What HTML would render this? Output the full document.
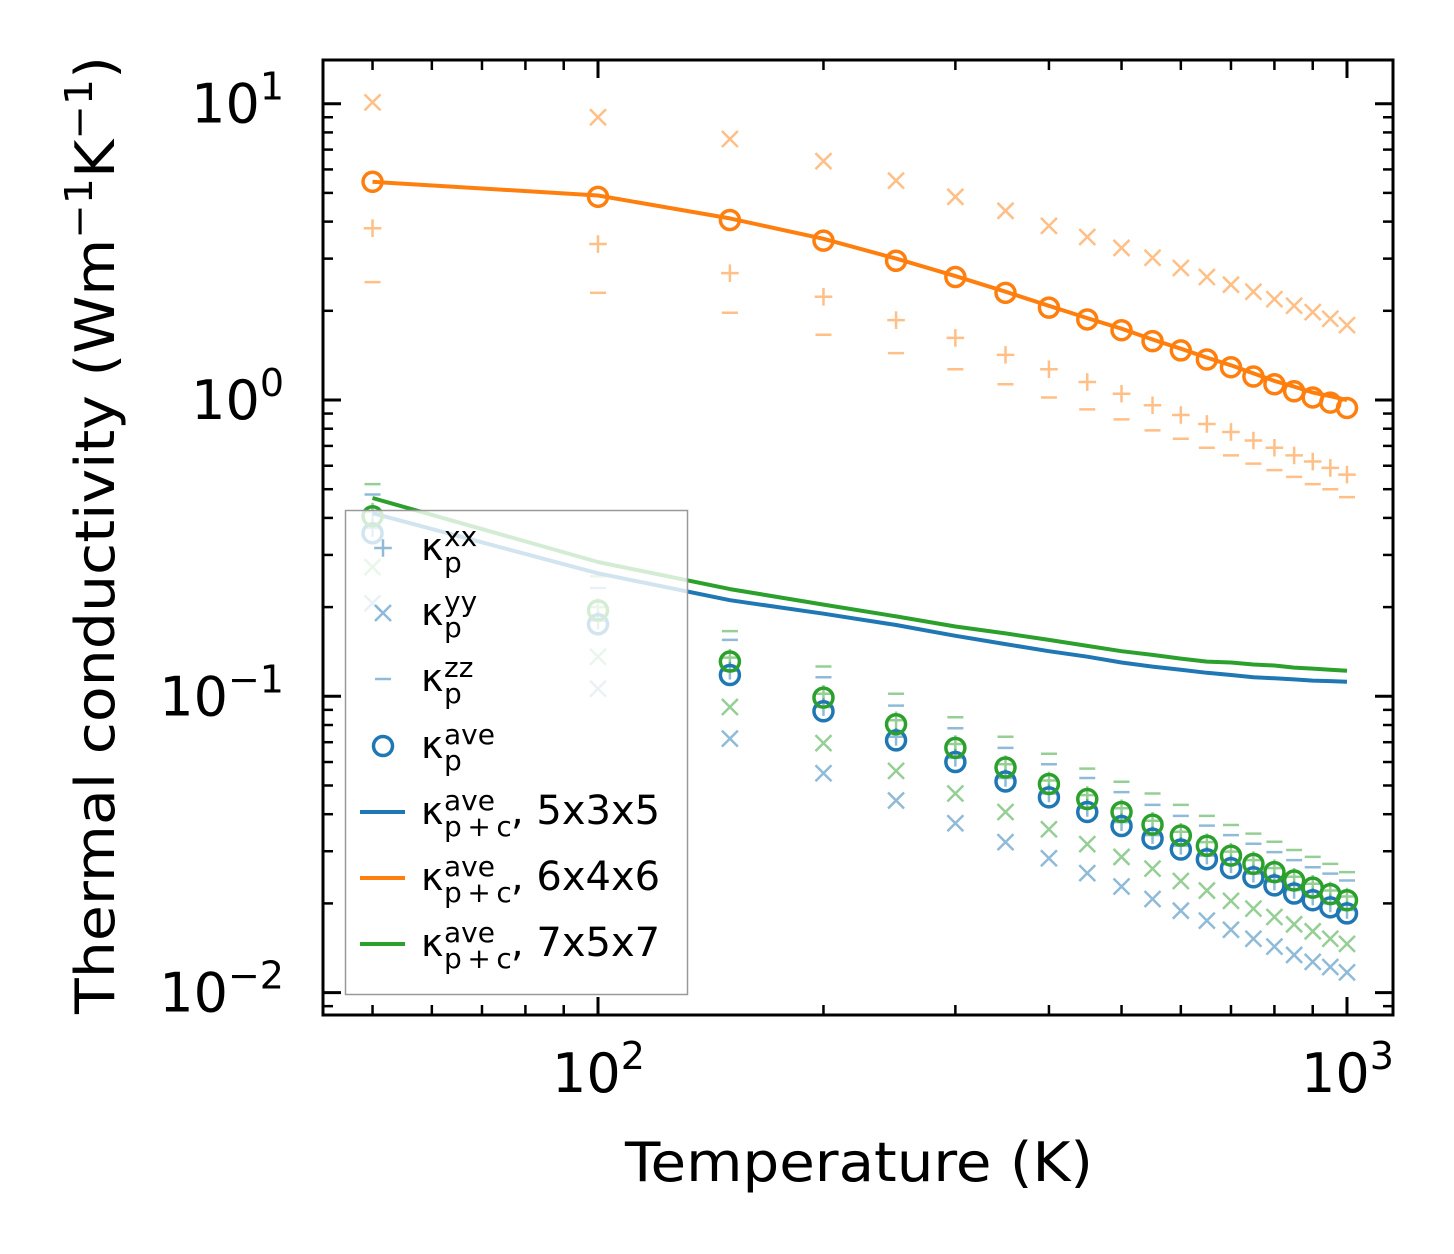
<!DOCTYPE html>
<html><head><meta charset="utf-8"><style>
html,body{margin:0;padding:0;background:#fff;}
svg{display:block;font-family:"DejaVu Sans","Liberation Sans",sans-serif;}
</style></head><body>
<svg id="chart" width="1454" height="1254" viewBox="0 0 1454 1254" xmlns="http://www.w3.org/2000/svg">
<rect x="0" y="0" width="1454" height="1254" fill="#fff"/>
<g id="data"></g>
<g id="legend"></g>
<g id="axes"></g>
</svg>
<script>
const temps = [50,100,150,200,250,300,350,400,450,500,550,600,650,700,750,800,850,900,950,1000];
// 6x4x6 (orange)
const orXX = [3.8,3.36,2.68,2.23,1.86,1.62,1.42,1.27,1.15,1.05,0.96,0.89,0.83,0.78,0.73,0.69,0.65,0.62,0.59,0.56];
const orYY = [10.1,9.0,7.6,6.4,5.5,4.85,4.35,3.87,3.55,3.26,3.02,2.79,2.6,2.45,2.32,2.19,2.08,1.98,1.88,1.79];
const orZZ = [2.5,2.3,1.97,1.66,1.44,1.27,1.13,1.02,0.93,0.86,0.79,0.74,0.69,0.65,0.61,0.58,0.55,0.52,0.5,0.47];
const orAve = [5.45,4.85,4.05,3.45,2.95,2.6,2.3,2.05,1.87,1.72,1.58,1.47,1.37,1.29,1.2,1.13,1.07,1.02,0.98,0.94];
const orLine = [5.45,4.9,4.1,3.5,3.0,2.62,2.32,2.08,1.89,1.74,1.6,1.49,1.39,1.31,1.23,1.16,1.11,1.06,1.03,1.0];
// 5x3x5 (blue)
const blXX = [0.37,0.18,0.122,0.092,0.073,0.062,0.053,0.047,0.042,0.0376,0.034,0.0313,0.029,0.0271,0.0252,0.0237,0.0222,0.0211,0.02,0.019];
const blYY = [0.206,0.106,0.072,0.055,0.0445,0.0373,0.0322,0.0284,0.0253,0.0228,0.0207,0.0189,0.0175,0.0163,0.0152,0.0143,0.0134,0.0127,0.0122,0.0117];
const blZZ = [0.48,0.232,0.155,0.116,0.093,0.078,0.067,0.059,0.053,0.0475,0.043,0.0395,0.0366,0.034,0.0318,0.0298,0.028,0.0265,0.0252,0.0239];
const blAve = [0.355,0.175,0.118,0.089,0.071,0.06,0.0516,0.0456,0.0407,0.0365,0.0331,0.0304,0.0282,0.0263,0.0245,0.023,0.0216,0.0205,0.0194,0.0185];
const blLine = [0.415,0.26,0.211,0.19,0.174,0.16,0.15,0.142,0.136,0.13,0.126,0.123,0.12,0.118,0.116,0.115,0.114,0.113,0.1125,0.112];
// 7x5x7 (green)
const grXX = [0.42,0.2,0.135,0.102,0.083,0.069,0.059,0.052,0.0464,0.0419,0.038,0.0349,0.0322,0.0299,0.028,0.0263,0.0246,0.0233,0.0221,0.0211];
const grYY = [0.273,0.136,0.092,0.0695,0.056,0.047,0.0407,0.0356,0.0317,0.0287,0.0262,0.0238,0.0221,0.0204,0.0192,0.018,0.017,0.0161,0.0152,0.0146];
const grZZ = [0.52,0.254,0.166,0.126,0.102,0.085,0.073,0.064,0.057,0.0515,0.047,0.043,0.0395,0.0368,0.0344,0.0323,0.0303,0.0287,0.0272,0.0255];
const grAve = [0.405,0.195,0.131,0.099,0.0805,0.067,0.0575,0.0506,0.045,0.0407,0.0369,0.0339,0.0313,0.029,0.0272,0.0255,0.0239,0.0226,0.0215,0.0205];
const grLine = [0.467,0.284,0.23,0.204,0.186,0.172,0.163,0.155,0.148,0.142,0.138,0.134,0.131,0.13,0.128,0.127,0.125,0.124,0.123,0.122];
const xTickLabels = ["2","3"];
const yTickLabels = ["1","0","\u22121","\u22122"];

const NS="http://www.w3.org/2000/svg";
const L=323,R=1393,T=60,B=1015;
const xs = v => 598 + 749*(Math.log10(v)-2);
const ys = v => 400 - 296.3*Math.log10(v);
function el(tag, attrs, parent){const e=document.createElementNS(NS,tag);for(const k in attrs)e.setAttribute(k,attrs[k]);parent.appendChild(e);return e;}
const gD=document.getElementById('data'), gL=document.getElementById('legend'), gA=document.getElementById('axes');
const C={blue:'#1f77b4',orange:'#ff7f0e',green:'#2ca02c'};

function marker(type,cx,cy,color,op,parent){
  const s=8;let m;
  if(type==='x'){m=el('path',{d:`M${cx-s} ${cy-s}L${cx+s} ${cy+s}M${cx-s} ${cy+s}L${cx+s} ${cy-s}`,stroke:color,'stroke-width':2.5,fill:'none',opacity:op},parent);}
  else if(type==='+'){m=el('path',{d:`M${cx-s*1.1} ${cy}L${cx+s*1.1} ${cy}M${cx} ${cy-s*1.1}L${cx} ${cy+s*1.1}`,stroke:color,'stroke-width':2.5,fill:'none',opacity:op},parent);}
  else if(type==='-'){m=el('path',{d:`M${cx-s} ${cy}L${cx+s} ${cy}`,stroke:color,'stroke-width':2.5,fill:'none',opacity:op},parent);}
  else {m=el('circle',{cx:cx,cy:cy,r:9.5,stroke:color,'stroke-width':3.5,fill:'none',opacity:op},parent);}
  return m;
}
function series(vals,type,color,op,name){
  const g=el('g',{},gD);
  
  
  vals.forEach((v,i)=>{const m=marker(type,xs(temps[i]),ys(v),color,op,g);
    
    });
}
function line(vals,color,name){
  const d=vals.map((v,i)=>(i?'L':'M')+xs(temps[i]).toFixed(1)+' '+ys(v).toFixed(1)).join('');
  const p=el('path',{d:d,stroke:color,'stroke-width':4,fill:'none','stroke-linejoin':'round'},gD);
  
  
}
[[blXX,blYY,blZZ,C.blue,'blue-5x3x5'],[grXX,grYY,grZZ,C.green,'green-7x5x7'],[orXX,orYY,orZZ,C.orange,'orange-6x4x6']].forEach(([a,b,c,col,n])=>{
  series(a,'+',col,0.5,n+'-kxx');series(b,'x',col,0.5,n+'-kyy');series(c,'-',col,0.5,n+'-kzz');
});
line(blLine,C.blue,'line-5x3x5');
line(orLine,C.orange,'line-6x4x6');
line(grLine,C.green,'line-7x5x7');
series(blAve,'o',C.blue,1,'blue-kave');
series(grAve,'o',C.green,1,'green-kave');
series(orAve,'o',C.orange,1,'orange-kave');

// legend
const lb=el('rect',{x:345.5,y:510.5,width:342,height:484,fill:'#fff','fill-opacity':0.8,stroke:'#999','stroke-width':1.5},gL);


const entries=[['+',C.blue,'xx','','',548],['x',C.blue,'yy','','',613],['-',C.blue,'zz','','',679],['o',C.blue,'ave','','',746],['l',C.blue,'ave','p\u2009+\u2009c',', 5x3x5',812],['l',C.orange,'ave','p\u2009+\u2009c',', 6x4x6',878],['l',C.green,'ave','p\u2009+\u2009c',', 7x5x7',944]];
entries.forEach(([t,col,sup,sub,tail,y],i)=>{
  const g=el('g',{},gL);
  
  
  if(t==='l') el('path',{d:`M360 ${y}L405 ${y}`,stroke:col,'stroke-width':4},g);
  else marker(t,383,y,col,t==='o'?1:0.5,g);
  const tx=el('text',{x:421,y:y+12,'font-size':38,fill:'#000'},g);
  tx.textContent='κ';
  const s1=el('tspan',{x:444,y:y-2,'font-size':28},tx);s1.textContent=sup;
  const s2=el('tspan',{x:444,y:y+24,'font-size':28},tx);s2.textContent=sub||'p';
  if(tail){const s3=el('tspan',{x:511,y:y+12,'font-size':40},tx);s3.textContent=tail;}
});

// axes frame
const fr=el('rect',{x:L,y:T,width:R-L,height:B-T,fill:'none',stroke:'#000','stroke-width':3},gA);


function tick(x1,y1,x2,y2,w){el('path',{d:`M${x1} ${y1}L${x2} ${y2}`,stroke:'#000','stroke-width':w||2.5},gA);}
for(let d=1;d<=3;d++)for(let k=1;k<10;k++){const v=k*Math.pow(10,d);const x=xs(v);if(x<L+1||x>R-1)continue;
  const len=k===1?18:10;tick(x,B,x,B-len,k===1?3:2.5);tick(x,T,x,T+len,k===1?3:2.5);}
for(let d=-3;d<=1;d++)for(let k=1;k<10;k++){const v=k*Math.pow(10,d);const y=ys(v);if(y<T+1||y>B-1)continue;
  const len=k===1?18:10;tick(L,y,L+len,y,k===1?3:2.5);tick(R,y,R-len,y,k===1?3:2.5);}
[2,3].forEach((d,i)=>{const x=xs(Math.pow(10,d));const t=el('text',{x:x-46,y:1092,'font-size':54},gA);
  
  t.textContent='10';const s=el('tspan',{dy:-23,'font-size':38},t);s.textContent=xTickLabels[i];});
[1,0,-1,-2].forEach((d,i)=>{const y=ys(Math.pow(10,d));const t=el('text',{x:284,y:y+19,'font-size':54,'text-anchor':'end'},gA);
  
  t.textContent='10';const s=el('tspan',{dy:-23,'font-size':38},t);s.textContent=yTickLabels[i];});

const svg=document.getElementById('chart');
const xl=el('text',{x:859,y:1181,'font-size':54,'text-anchor':'middle',textLength:468,lengthAdjust:'spacingAndGlyphs'},svg);


xl.textContent='Temperature (K)';
const yl=el('text',{transform:'translate(114,535) rotate(-90)','font-size':54,'text-anchor':'middle',textLength:958,lengthAdjust:'spacingAndGlyphs'},svg);


yl.textContent='Thermal conductivity (Wm';
const a=el('tspan',{dy:-22,'font-size':38},yl);a.textContent='\u22121';
const b=el('tspan',{dy:22},yl);b.textContent='K';
const c=el('tspan',{dy:-22,'font-size':38},yl);c.textContent='\u22121';
const e=el('tspan',{dy:22},yl);e.textContent=')';
</script>
</body></html>
